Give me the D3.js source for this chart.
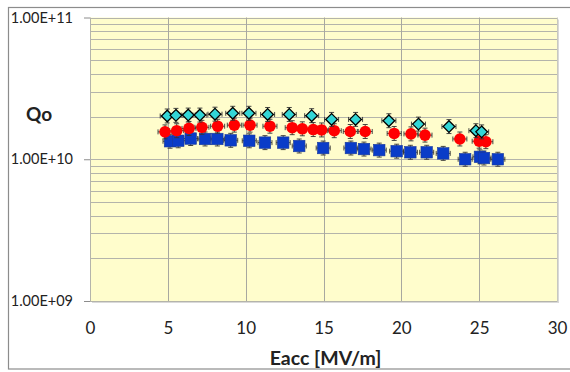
<!DOCTYPE html>
<html><head><meta charset="utf-8">
<script src="https://cdn.jsdelivr.net/npm/d3@7"></script>
<style>body{margin:0;background:#fff}svg{display:block}text{font-family:Lato,"Liberation Sans",sans-serif;fill:#222}</style>
</head><body><svg id="c" width="570" height="372"></svg>
<script>
const xTicks = [0,5,10,15,20,25,30];
const yTicks = [1e9,1e10,1e11];
const yTickLabels = ["1.00E+09","1.00E+10","1.00E+11"];
const cyanX = [4.96,5.52,6.31,7.06,8.03,9.17,10.21,11.41,12.80,14.24,15.52,17.06,19.20,21.10,23.06,24.79,25.16];
const cyanQ = [2.02e10,2.04e10,2.05e10,2.05e10,2.08e10,2.11e10,2.11e10,2.07e10,2.07e10,2.03e10,1.91e10,1.91e10,1.87e10,1.77e10,1.70e10,1.59e10,1.56e10];
const redX = [4.82,5.57,6.36,7.19,8.20,9.27,10.28,11.56,12.99,13.64,14.34,14.88,15.69,16.72,17.68,19.54,20.62,21.52,23.76,25.00,25.43];
const redQ = [1.56e10,1.59e10,1.65e10,1.68e10,1.71e10,1.74e10,1.74e10,1.71e10,1.67e10,1.64e10,1.62e10,1.61e10,1.59e10,1.57e10,1.57e10,1.52e10,1.51e10,1.48e10,1.39e10,1.34e10,1.33e10];
const blueX = [5.14,5.67,6.47,7.39,8.18,9.04,10.23,11.24,12.41,13.44,14.98,16.76,17.60,18.58,19.70,20.58,21.63,22.69,24.10,25.05,25.31,26.20];
const blueQ = [1.34e10,1.35e10,1.40e10,1.39e10,1.39e10,1.36e10,1.35e10,1.31e10,1.31e10,1.24e10,1.20e10,1.20e10,1.18e10,1.16e10,1.14e10,1.12e10,1.12e10,1.10e10,1.00e10,1.04e10,1.02e10,1.00e10];
const xErr = 0.45, yErrFrac = 0.12;

const svg = d3.select("#c");
const L=90, R=557, T=17.5, B=301;
const x = d3.scaleLinear().domain([0,30]).range([L,R]);
const y = d3.scaleLog().domain([1e9,1e11]).range([B,T]);

// outer frame
svg.append("rect").attr("x",8.5).attr("y",7.5).attr("width",575).attr("height",361.5)
  .attr("fill","#fff").attr("stroke","#8c8c8c").attr("stroke-width",1.2);

// plot area
svg.append("rect").attr("x",L+2).attr("y",T+2).attr("width",R-L).attr("height",B-T).attr("fill","#d9d9d9");
svg.append("rect").attr("x",L).attr("y",T).attr("width",R-L).attr("height",B-T).attr("fill","#FFFDCC");

// horizontal gridlines (log minor)
const gridY = [];
for (let e=9;e<=10;e++) for (let m=1;m<=9;m++) gridY.push(m*Math.pow(10,e));
gridY.push(1e11);
svg.append("g").selectAll("line").data(gridY).join("line")
  .attr("x1",L).attr("x2",R).attr("y1",d=>Math.round(y(d))+0.5).attr("y2",d=>Math.round(y(d))+0.5)
  .attr("stroke","#b4b4ab").attr("stroke-width",1);
svg.append("g").selectAll("line").data(xTicks.slice(1,-1)).join("line")
  .attr("x1",d=>Math.round(x(d))+0.5).attr("x2",d=>Math.round(x(d))+0.5).attr("y1",T).attr("y2",B)
  .attr("stroke","#a8a8a0").attr("stroke-width",1);
svg.append("line").attr("x1",R+0.5).attr("x2",R+0.5).attr("y1",T).attr("y2",B).attr("stroke","#c8c8c0");
svg.append("line").attr("x1",L+0.5).attr("x2",L+0.5).attr("y1",T).attr("y2",B).attr("stroke","#b4b4ab");

// y axis
const yAxis = d3.axisLeft(y).tickValues(yTicks).tickSize(6).tickPadding(11)
  .tickFormat((d,i)=>yTickLabels[i]);
const gy = svg.append("g").attr("transform",`translate(${L},0)`).call(yAxis);
gy.select(".domain").remove();
gy.selectAll("line").attr("stroke","#8c8c8c");
gy.selectAll("text").attr("font-size",14.5).attr("fill","#222").style("font-family","Lato, 'Liberation Sans', sans-serif");

// x axis
const xAxis = d3.axisBottom(x).tickValues(xTicks).tickSize(0).tickPadding(21).tickFormat(d3.format("d"));
const gx = svg.append("g").attr("transform",`translate(0,${B})`).call(xAxis);
gx.select(".domain").attr("stroke","#b4b4ab");
gx.selectAll("text").attr("font-size",17).attr("fill","#222").style("font-family","Lato, 'Liberation Sans', sans-serif");

// titles
svg.append("text").attr("x",26).attr("y",121).attr("font-size",19).attr("font-weight","bold").text("Qo");
svg.append("text").attr("x",(L+R)/2+2).attr("y",365).attr("text-anchor","middle").attr("font-size",19.5).attr("font-weight","bold").text("Eacc [MV/m]");

function errBars(xs, qs){
  const g = svg.append("g").attr("stroke","#333").attr("stroke-width",0.9).attr("fill","none");
  xs.forEach((xv,i)=>{
    const q = qs[i], cx = x(xv), cy = y(q);
    const x0 = x(xv-xErr), x1 = x(xv+xErr);
    const y0 = y(q*(1+yErrFrac)), y1 = y(q/(1+yErrFrac));
    g.append("line").attr("x1",x0).attr("x2",x1).attr("y1",cy).attr("y2",cy);
    g.append("line").attr("x1",x0).attr("x2",x0).attr("y1",cy-2.5).attr("y2",cy+2.5);
    g.append("line").attr("x1",x1).attr("x2",x1).attr("y1",cy-2.5).attr("y2",cy+2.5);
    g.append("line").attr("x1",cx).attr("x2",cx).attr("y1",y0).attr("y2",y1);
    g.append("line").attr("x1",cx-2.5).attr("x2",cx+2.5).attr("y1",y0).attr("y2",y0);
    g.append("line").attr("x1",cx-2.5).attr("x2",cx+2.5).attr("y1",y1).attr("y2",y1);
  });
}

// blue squares
errBars(blueX, blueQ);
svg.append("g").selectAll("rect").data(blueX).join("rect")
  .attr("x",(d)=>x(d)-5.75).attr("y",(d,i)=>y(blueQ[i])-5.75).attr("width",11.5).attr("height",11.5)
  .attr("fill","#0A3CC8").attr("stroke","#1a3a9a").attr("stroke-width",0.6);

// red circles
errBars(redX, redQ);
svg.append("g").selectAll("circle").data(redX).join("circle")
  .attr("cx",d=>x(d)).attr("cy",(d,i)=>y(redQ[i])).attr("r",5.8).attr("fill","#FF0000");

// cyan diamonds
errBars(cyanX, cyanQ);
svg.append("g").selectAll("path").data(cyanX).join("path")
  .attr("d",(d,i)=>{const cx=x(d), cy=y(cyanQ[i]), r=5.8; return `M${cx},${cy-r}L${cx+r},${cy}L${cx},${cy+r}L${cx-r},${cy}Z`;})
  .attr("fill","#33D6D6").attr("stroke","#000").attr("stroke-width",1.3);
</script></body></html>
